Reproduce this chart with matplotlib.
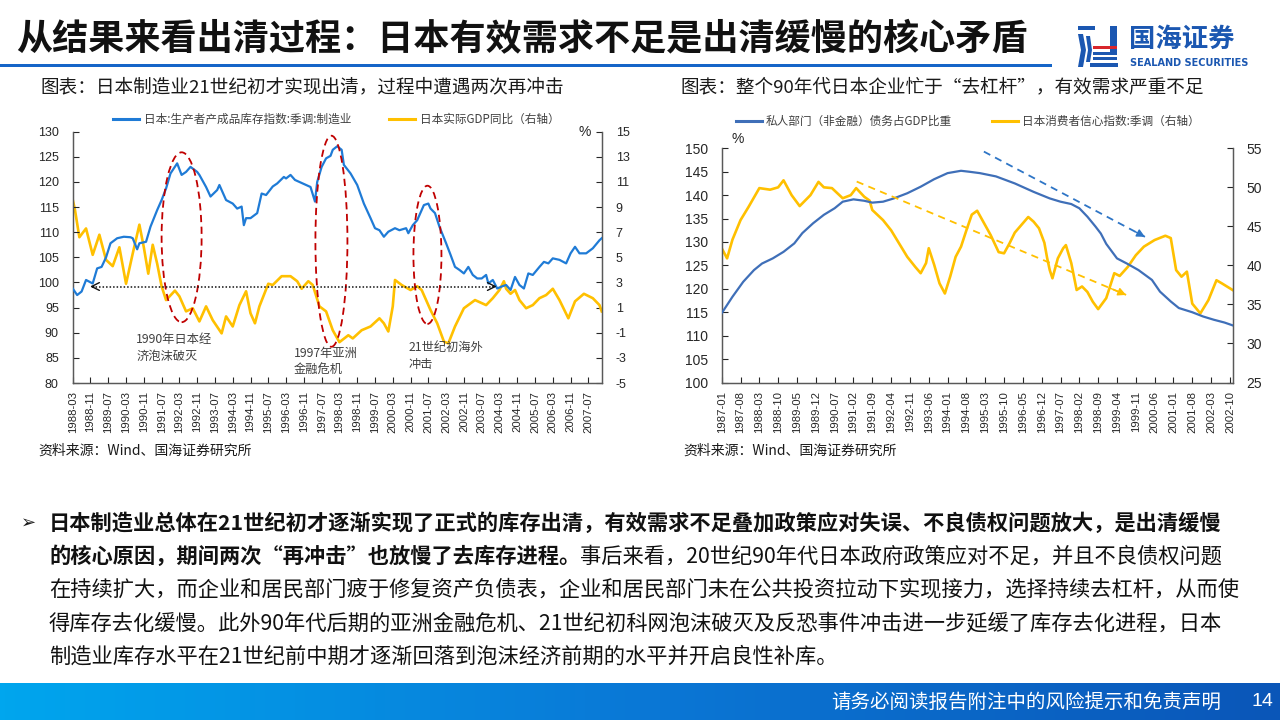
import numpy as np
import matplotlib

matplotlib.use("Agg")
import matplotlib.pyplot as plt
from matplotlib.colors import LinearSegmentedColormap
from matplotlib.patches import Ellipse, Rectangle, Polygon

plt.rcParams["font.family"] = ["Noto Sans CJK SC", "DejaVu Sans"]
plt.rcParams["axes.unicode_minus"] = False

W, H = 1280, 720

# ---------------- left chart: months since 1988-03 ----------------
INV_MONTH = [0, 2, 4, 6, 9, 11, 13, 15, 17, 20, 23, 26, 27, 29, 30, 33, 35, 38, 40, 42,
             44, 47, 49, 51, 53, 56, 57, 60, 62, 65, 66, 68, 69, 72, 74, 76, 77, 78, 80, 83,
             85, 87, 90, 92, 95, 96, 98, 100, 102, 105, 107, 109, 110, 112, 114, 116, 117, 119, 121, 122,
             125, 128, 131, 134, 136, 138, 140, 142, 145, 147, 150, 151, 153, 155, 158, 160, 161, 163, 165, 168,
             170, 172, 174, 176, 178, 180, 182, 184, 186, 187, 189, 191, 193, 195, 197, 199, 201, 203, 205, 207,
             210, 212, 214, 216, 219, 222, 224, 226, 228, 231, 234, 237, 238]
INV_VALUE = [98.8, 97.5, 98.2, 100.5, 99.8, 102.8, 103.1, 105.0, 107.8, 108.8, 109.1, 109.0, 108.8, 106.6, 107.8, 108.1, 111.1, 114.4, 116.4, 118.7,
             121.7, 123.7, 121.4, 122.0, 123.0, 122.0, 121.4, 119.0, 117.1, 118.4, 119.4, 117.4, 116.4, 115.7, 114.7, 115.1, 111.4, 112.8, 112.8, 113.8,
             117.7, 117.4, 119.1, 119.7, 121.0, 120.7, 121.4, 120.4, 120.0, 119.4, 119.0, 116.1, 120.0, 123.0, 124.7, 125.2, 126.4, 127.1, 126.4, 123.4,
             121.7, 119.4, 115.7, 112.8, 110.8, 110.4, 109.1, 110.1, 110.8, 110.4, 110.8, 109.8, 111.4, 112.4, 115.4, 115.7, 114.7, 113.8, 111.1, 107.8,
             105.5, 103.1, 102.5, 101.8, 103.1, 101.5, 100.8, 100.8, 101.5, 99.8, 100.5, 98.8, 99.2, 99.5, 98.5, 101.1, 99.5, 98.8, 101.8, 101.5,
             103.1, 104.1, 103.8, 104.8, 104.5, 103.8, 105.8, 107.1, 105.8, 105.8, 106.8, 108.4, 108.8]

GDP_MONTH = [0, 1, 3, 6, 9, 12, 15, 18, 21, 24, 27, 30, 32, 34, 36, 38, 40, 42, 46, 48,
             51, 54, 57, 60, 63, 67, 69, 72, 75, 78, 80, 82, 84, 88, 90, 94, 98, 101, 103, 106,
             108, 111, 114, 117, 120, 124, 126, 130, 134, 138, 140, 142, 144, 145, 148, 152, 155, 157, 161, 164,
             167, 169, 172, 176, 181, 186, 189, 192, 194, 195, 197, 199, 201, 204, 207, 210, 213, 216, 219, 223,
             226, 230, 234, 237, 238]
GDP_VALUE = [9.6, 8.8, 6.6, 7.3, 5.2, 6.8, 4.8, 4.3, 5.8, 2.9, 5.3, 7.6, 5.8, 3.7, 6.0, 4.5, 2.7, 1.6, 2.35, 1.9,
             0.7, 0.95, -0.1, 1.1, 0.0, -1.05, 0.3, -0.5, 1.2, 2.3, 0.55, -0.25, 1.1, 2.9, 2.8, 3.5, 3.5, 3.1, 2.5, 3.1,
             2.8, 1.1, 0.7, -0.8, -1.75, -1.2, -1.45, -0.8, -0.5, 0.15, -0.25, -0.9, 1.1, 3.2, 2.8, 2.4, 2.7, 2.4, 0.8, -0.25,
             -1.7, -1.85, -0.5, 0.95, 1.6, 1.2, 1.75, 2.4, 3.1, 2.5, 2.1, 2.4, 1.6, 0.95, 1.2, 1.75, 2.0, 2.5, 1.6, 0.15,
             1.5, 2.1, 1.75, 1.2, 0.7]

LEFT_TICKS = ["1988-03", "1988-11", "1989-07", "1990-03", "1990-11", "1991-07", "1992-03", "1992-11",
              "1993-07", "1994-03", "1994-11", "1995-07", "1996-03", "1996-11", "1997-07", "1998-03",
              "1998-11", "1999-07", "2000-03", "2000-11", "2001-07", "2002-03", "2002-11", "2003-07",
              "2004-03", "2004-11", "2005-07", "2006-03", "2006-11", "2007-07"]

# ---------------- right chart: months since 1987-01 ----------------
DEBT_MONTH = [0, 4, 8, 12, 15, 19, 23, 27, 30, 34, 38, 42, 45, 49, 53, 56, 60, 64, 69, 74,
              79, 84, 89, 92, 96, 102, 109, 116, 122, 126, 130, 133, 136, 139, 141, 143, 147, 151, 155, 160,
              163, 167, 170, 175, 179, 183, 187, 190]
DEBT_VALUE = [114.8, 118.3, 121.5, 124.0, 125.4, 126.5, 127.9, 129.7, 131.9, 134.0, 135.8, 137.2, 138.6, 139.1, 138.8, 138.4, 138.6, 139.3, 140.4, 141.8,
              143.4, 144.7, 145.2, 145.0, 144.7, 144.0, 142.5, 140.7, 139.3, 138.6, 138.1, 137.2, 135.4, 133.3, 131.8, 129.6, 126.5, 125.3, 124.0, 121.9,
              119.4, 117.3, 115.9, 115.0, 114.1, 113.4, 112.8, 112.2]

CONF_MONTH = [0, 2, 4, 7, 10, 14, 18, 21, 23, 26, 29, 33, 36, 38, 41, 45, 48, 50, 53, 55,
              56, 60, 63, 66, 69, 72, 74, 76, 77, 79, 81, 83, 85, 87, 89, 91, 93, 95, 100, 103,
              105, 107, 109, 112, 114, 116, 118, 120, 121, 122, 123, 125, 127, 128, 130, 132, 134, 136, 138, 140,
              143, 146, 148, 151, 154, 157, 161, 165, 167, 169, 171, 173, 175, 178, 181, 184, 186, 190]
CONF_VALUE = [42.2, 40.9, 43.3, 45.8, 47.5, 49.9, 49.7, 50.0, 50.9, 49.0, 47.6, 49.0, 50.7, 50.0, 49.9, 48.6, 49.0, 49.9, 48.8, 48.3,
              47.1, 45.8, 44.5, 42.8, 41.1, 39.8, 39.0, 40.3, 42.2, 40.1, 37.7, 36.4, 38.6, 41.1, 42.4, 44.5, 46.5, 47.0, 43.9, 41.7,
              41.55, 42.8, 44.2, 45.4, 46.2, 45.6, 44.75, 42.9, 41.0, 39.4, 38.35, 40.9, 42.2, 42.6, 40.3, 36.85, 37.3, 36.6, 35.35, 34.4,
              35.8, 39.0, 38.65, 39.8, 41.3, 42.4, 43.25, 43.8, 43.5, 39.4, 38.55, 39.2, 35.1, 33.85, 35.55, 38.1, 37.7, 36.85]

RIGHT_TICKS = ["1987-01", "1987-08", "1988-03", "1988-10", "1989-05", "1989-12", "1990-07", "1991-02",
               "1991-09", "1992-04", "1992-11", "1993-06", "1994-01", "1994-08", "1995-03", "1995-10",
               "1996-05", "1996-12", "1997-07", "1998-02", "1998-09", "1999-04", "1999-11", "2000-06",
               "2001-01", "2001-08", "2002-03", "2002-10"]

TITLE = "从结果来看出清过程：日本有效需求不足是出清缓慢的核心矛盾"
SUB_L = "图表：日本制造业21世纪初才实现出清，过程中遭遇两次再冲击"
SUB_R = "图表：整个90年代日本企业忙于“去杠杆”，有效需求严重不足"
SOURCE = "资料来源：Wind、国海证券研究所"
LEG_L = ["日本:生产者产成品库存指数:季调:制造业", "日本实际GDP同比（右轴）"]
LEG_R = ["私人部门（非金融）债务占GDP比重", "日本消费者信心指数:季调（右轴）"]

BODY = [
    ("日本制造业总体在21世纪初才逐渐实现了正式的库存出清，有效需求不足叠加政策应对失误、不良债权问题放大，是出清缓慢", ""),
    ("的核心原因，期间两次“再冲击”也放慢了去库存进程。", "事后来看，20世纪90年代日本政府政策应对不足，并且不良债权问题"),
    ("", "在持续扩大，而企业和居民部门疲于修复资产负债表，企业和居民部门未在公共投资拉动下实现接力，选择持续去杠杆，从而使"),
    ("", "得库存去化缓慢。此外90年代后期的亚洲金融危机、21世纪初科网泡沫破灭及反恐事件冲击进一步延缓了库存去化进程，日本"),
    ("", "制造业库存水平在21世纪前中期才逐渐回落到泡沫经济前期的水平并开启良性补库。"),
]

BLUE_L = "#1f7bd6"
BLUE_R = "#3f6fb8"
YELLOW = "#ffc000"
RED = "#c00000"
TXT = "#262626"
SPINE = "#595959"
NUM_FONT = ["Liberation Sans", "DejaVu Sans"]

fig = plt.figure(figsize=(12.8, 7.2), dpi=100)
bg = fig.add_axes([0, 0, 1, 1])
bg.set_xlim(0, W)
bg.set_ylim(H, 0)
bg.axis("off")


def ftext(x, y, s, **kw):
    return fig.text(x / W, 1 - y / H, s, **kw)


# header
ftext(16, 40, TITLE, fontsize=26, fontweight="bold", va="center", color="#111111")
bg.add_patch(Rectangle((0, 64), 1052, 3.2, color="#1565c8", lw=0))

# logo
lb, lr = "#1b57b1", "#d8262c"
bg.add_patch(Rectangle((1078, 26), 17, 4, color=lb, lw=0))
bg.add_patch(Polygon([(1078, 34), (1083, 34), (1086, 50), (1083, 67), (1078, 67), (1081, 50)], color=lb, lw=0))
bg.add_patch(Polygon([(1086, 36), (1090, 36), (1092, 50), (1090, 62), (1086, 62), (1088, 50)], color=lb, lw=0))
bg.add_patch(Rectangle((1110, 26), 7, 29, color=lb, lw=0))
bg.add_patch(Rectangle((1093, 46), 24, 3, color=lr, lw=0))
bg.add_patch(Rectangle((1093, 52), 24, 2.5, color=lb, lw=0))
bg.add_patch(Rectangle((1093, 57), 24, 2.5, color=lb, lw=0))
bg.add_patch(Rectangle((1090, 63), 28, 4, color=lb, lw=0))
ftext(1129, 39, "国海证券", fontsize=19, fontweight="bold", color=lb, va="center")
ftext(1130, 63, "SEALAND SECURITIES", fontsize=7, fontweight="bold", color=lb, va="center",
      family="DejaVu Sans")

# subtitles
ftext(40, 87, SUB_L, fontsize=13.4, va="center", color="#1a1a1a")
ftext(680, 87, SUB_R, fontsize=13.4, va="center", color="#1a1a1a")


def style_axes(ax, ax2, fs):
    for s in ("top",):
        ax.spines[s].set_visible(False)
        ax2.spines[s].set_visible(False)
    for s in ("left", "bottom", "right"):
        ax.spines[s].set_color(SPINE)
        ax2.spines[s].set_color(SPINE)
        ax.spines[s].set_linewidth(0.9)
        ax2.spines[s].set_linewidth(0.9)
    ax.tick_params(axis="y", direction="in", length=4, pad=10, labelsize=fs, colors=TXT)
    ax.tick_params(axis="x", direction="in", length=4, pad=6, labelsize=8.2, colors=TXT, labelrotation=90)
    ax2.tick_params(axis="y", direction="in", length=4, pad=10, labelsize=fs, colors=TXT)
    for lab in ax.get_xticklabels() + ax.get_yticklabels() + ax2.get_yticklabels():
        lab.set_family(NUM_FONT)
    ax.patch.set_alpha(0)


# ---------------- left chart ----------------
axL = fig.add_axes([72.7 / W, 1 - 383 / H, 529 / W, 251.3 / H])
axL2 = axL.twinx()
axL.plot(INV_MONTH, INV_VALUE, color=BLUE_L, lw=1.6, zorder=3)
axL2.plot(GDP_MONTH, GDP_VALUE, color=YELLOW, lw=1.9, zorder=2)
axL.set_xlim(0, 238)
axL.set_ylim(80, 130)
axL.set_yticks(np.arange(80, 131, 5))
axL2.set_ylim(-5, 15)
axL2.set_yticks(np.arange(-5, 16, 2))
axL.set_xticks([8 * i for i in range(len(LEFT_TICKS))])
axL.set_xticklabels(LEFT_TICKS)
style_axes(axL, axL2, 9)
axL.set_zorder(axL2.get_zorder() + 1)

for cx, cy, w, h in [(49, 109.0, 18, 33.8), (116.4, 108.2, 14.4, 42), (159.6, 105.5, 12.6, 27.5)]:
    axL.add_patch(Ellipse((cx, cy), w, h, fill=False, ls=(0, (4, 2.5)), lw=1.3, ec=RED, zorder=5))

axL.plot([8.5, 190], [99.2, 99.2], ls=(0, (1, 1.3)), color="#111111", lw=1.1, zorder=6)
for end, back in [(7.8, 9.5), (190.8, 189.0)]:
    axL.annotate("", xy=(end, 99.2), xytext=(back, 99.2),
                 arrowprops=dict(arrowstyle="->", color="#111111", lw=1.0, mutation_scale=14,
                                 shrinkA=0, shrinkB=0), zorder=6)

note_kw = dict(fontsize=8.8, color="#404040", va="center", ha="left", linespacing=1.45, zorder=6)
axL.text(28.5, 87.0, "1990年日本经\n济泡沫破灭", **note_kw)
axL.text(99.6, 84.2, "1997年亚洲\n金融危机", **note_kw)
axL.text(151.3, 85.4, "21世纪初海外\n冲击", **note_kw)

# ---------------- right chart ----------------
axR = fig.add_axes([721.7 / W, 1 - 382.5 / H, 510.9 / W, 234.2 / H])
axR2 = axR.twinx()
axR.plot(DEBT_MONTH, DEBT_VALUE, color=BLUE_R, lw=1.6, zorder=3)
axR2.plot(CONF_MONTH, CONF_VALUE, color=YELLOW, lw=1.9, zorder=2)
axR.set_xlim(0, 190)
axR.set_ylim(100, 150)
axR.set_yticks(np.arange(100, 151, 5))
axR2.set_ylim(25, 55)
axR2.set_yticks(np.arange(25, 56, 5))
axR.set_xticks([7 * i for i in range(len(RIGHT_TICKS))])
axR.set_xticklabels(RIGHT_TICKS)
style_axes(axR, axR2, 10)
axR.set_zorder(axR2.get_zorder() + 1)

for (x0, y0), (x1, y1), c in [((50.2, 142.9), (150.4, 118.7), YELLOW),
                              ((97.5, 149.3), (157.4, 131.1), "#2e75c6")]:
    axR.plot([x0, x1], [y0, y1], ls=(0, (4, 3)), color=c, lw=1.3, zorder=6)
    bx, by = x1 - 0.06 * (x1 - x0), y1 - 0.06 * (y1 - y0)
    axR.annotate("", xy=(x1, y1), xytext=(bx, by),
                 arrowprops=dict(arrowstyle="-|>", color=c, lw=1.0, mutation_scale=12,
                                 shrinkA=0, shrinkB=0), zorder=6)

# percent labels
ftext(585, 132, "%", fontsize=10, color=TXT, va="center", ha="center", family=NUM_FONT)
ftext(738, 139, "%", fontsize=10, color=TXT, va="center", ha="center", family=NUM_FONT)

# legends
leg_kw = dict(fontsize=8.4, color="#404040", va="center")
for (x0, x1), col, txt in [((113, 139), BLUE_L, LEG_L[0]), ((389, 415), YELLOW, LEG_L[1])]:
    bg.plot([x0, x1], [119, 119], color=col, lw=2.2)
    ftext(x1 + 5, 119, txt, **leg_kw)
for (x0, x1), col, txt in [((736, 762), BLUE_R, LEG_R[0]), ((992, 1018), YELLOW, LEG_R[1])]:
    bg.plot([x0, x1], [121, 121], color=col, lw=2.2)
    ftext(x1 + 4, 121, txt, **leg_kw)

# sources
ftext(38, 451, SOURCE, fontsize=10, va="center", color="#1a1a1a")
ftext(683, 451, SOURCE, fontsize=10, va="center", color="#1a1a1a")

# body text
ftext(21, 523, "➢", fontsize=13, va="center", family="DejaVu Sans", color="#1a1a1a")
fig.canvas.draw()
renderer = fig.canvas.get_renderer()
for i, (bold, normal) in enumerate(BODY):
    y = 523 + 33.3 * i
    x = 49
    if bold:
        t = ftext(x, y, bold, fontsize=15.3, fontweight="bold", va="center", color="#111111")
        x = t.get_window_extent(renderer).x1
    if normal:
        ftext(x, y, normal, fontsize=15.3, va="center", color="#111111")

# footer
cmap = LinearSegmentedColormap.from_list("foot", ["#00a6ee", "#0a78d6", "#0a56b8"])
grad = np.linspace(0, 1, 256).reshape(1, -1)
bg.imshow(grad, extent=(0, W, H, 683), aspect="auto", cmap=cmap, zorder=0)
bg.set_xlim(0, W)
bg.set_ylim(H, 0)
ftext(1221, 702, "请务必阅读报告附注中的风险提示和免责声明", fontsize=14, color="white", va="center", ha="right")
ftext(1262, 702, "14", fontsize=14, color="white", va="center", ha="center", family=NUM_FONT)

fig.savefig("out.png", dpi=100)
